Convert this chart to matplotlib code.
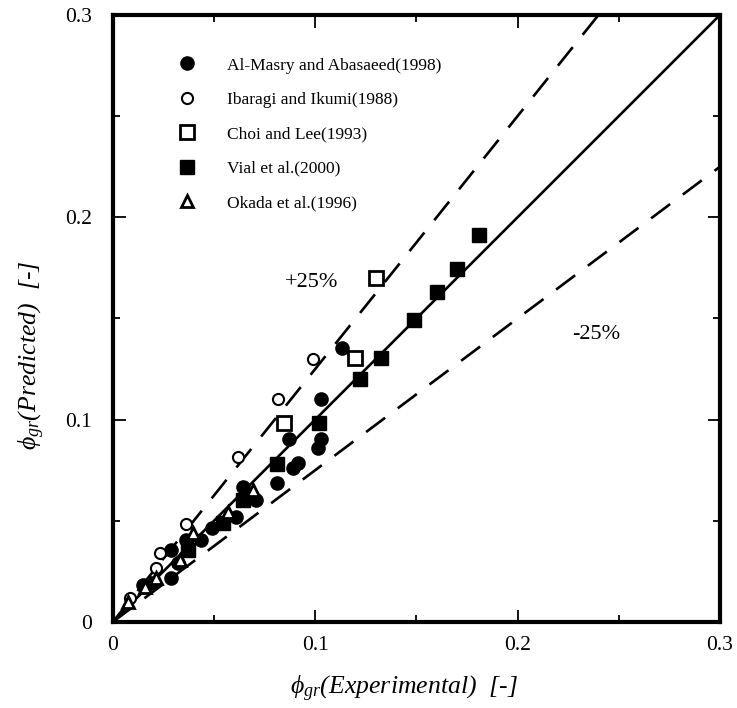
import matplotlib
matplotlib.use("Agg")
import matplotlib.pyplot as plt
from matplotlib.ticker import MultipleLocator
import numpy as np

plt.rcParams['font.family'] = ['Liberation Serif', 'DejaVu Serif']
plt.rcParams['mathtext.fontset'] = 'custom'
plt.rcParams['mathtext.rm'] = 'Liberation Serif'
plt.rcParams['mathtext.it'] = 'Liberation Serif:italic'

# Data (experimental, predicted)
almasry_x = [0.113, 0.1028, 0.1031, 0.1012, 0.0872, 0.0915, 0.0890, 0.0809, 0.0644,
             0.0710, 0.0611, 0.0488, 0.0438, 0.0364, 0.0290, 0.0323, 0.0290, 0.0150, 0.0191]
almasry_y = [0.1353, 0.1102, 0.0903, 0.0859, 0.0903, 0.0788, 0.0760, 0.0686, 0.0669,
             0.0603, 0.0520, 0.0463, 0.0405, 0.0405, 0.0356, 0.0290, 0.0216, 0.0183, 0.0191]

ibaragi_x = [0.0990, 0.0817, 0.0619, 0.0360, 0.0232, 0.0216, 0.0084]
ibaragi_y = [0.1300, 0.1100, 0.0814, 0.0484, 0.0343, 0.0265, 0.0117]

choi_x = [0.1300, 0.1196, 0.0845]
choi_y = [0.1700, 0.1303, 0.0982]

vial_x = [0.181, 0.170, 0.160, 0.149, 0.1325, 0.1220, 0.1017, 0.0812, 0.0644, 0.0545, 0.0372]
vial_y = [0.191, 0.1745, 0.163, 0.149, 0.1305, 0.1200, 0.0982, 0.0781, 0.0603, 0.0488, 0.0356]

okada_x = [0.0694, 0.0570, 0.0397, 0.0330, 0.0216, 0.0158, 0.0076]
okada_y = [0.0653, 0.0545, 0.0438, 0.0306, 0.0216, 0.0171, 0.0100]

labels = ['Al-Masry and Abasaeed(1998)', 'Ibaragi and Ikumi(1988)', 'Choi and Lee(1993)',
          'Vial et al.(2000)', 'Okada et al.(1996)']

fig = plt.figure(figsize=(7.37, 7.08), dpi=100)
ax = fig.add_axes([0.153, 0.1215, 0.824, 0.8575])

line = np.array([0.0, 0.3])
ax.plot(line, line, color='black', lw=1.9, zorder=2)
ax.plot(line, 1.25 * line, color='black', lw=1.9, dashes=(9, 6), zorder=2)
ax.plot(line, 0.75 * line, color='black', lw=1.9, dashes=(9, 6), zorder=2)

ax.plot(almasry_x, almasry_y, 'o', ms=9.5, mfc='black', mec='black', ls='none', label=labels[0], zorder=3)
ax.plot(ibaragi_x, ibaragi_y, 'o', ms=8, mfc='white', mec='black', mew=1.5, ls='none', label=labels[1], zorder=3)
ax.plot(choi_x, choi_y, 's', ms=10, mfc='white', mec='black', mew=2, ls='none', label=labels[2], zorder=3)
ax.plot(vial_x, vial_y, 's', ms=10.5, mfc='black', mec='black', ls='none', label=labels[3], zorder=3)
ax.plot(okada_x, okada_y, '^', ms=9, mfc='white', mec='black', mew=2, ls='none', label=labels[4], zorder=3)

ax.set_xlim(0, 0.3)
ax.set_ylim(0, 0.3)
ax.xaxis.set_major_locator(MultipleLocator(0.1))
ax.yaxis.set_major_locator(MultipleLocator(0.1))
ax.xaxis.set_minor_locator(MultipleLocator(0.05))
ax.yaxis.set_minor_locator(MultipleLocator(0.05))
ax.xaxis.set_major_formatter(plt.FuncFormatter(lambda v, p: '0' if abs(v) < 1e-9 else f'{v:.1f}'))
ax.yaxis.set_major_formatter(plt.FuncFormatter(lambda v, p: '0' if abs(v) < 1e-9 else f'{v:.1f}'))
ax.tick_params(which='both', direction='in', top=True, right=True, width=1.3, labelsize=15.5)
ax.tick_params(which='major', length=9)
ax.tick_params(which='minor', length=5)
ax.tick_params(axis='x', pad=10)
ax.tick_params(axis='y', pad=15)
for s in ax.spines.values():
    s.set_linewidth(3)

ax.text(0.0983, 0.1676, '+25%', fontsize=16, ha='center', va='center')
ax.text(0.239, 0.142, '-25%', fontsize=16, ha='center', va='center')

ax.set_xlabel(r'$\phi_{gr}$(Experimental)  [-]', fontsize=18.5, style='italic')
ax.set_ylabel(r'$\phi_{gr}$(Predicted)  [-]', fontsize=18.5, style='italic')
ax.xaxis.set_label_coords(0.48, -0.085)
ax.yaxis.set_label_coords(-0.108, 0.44)

leg = ax.legend(loc='upper left', bbox_to_anchor=(0.085, 0.95), frameon=False,
                fontsize=12.5, handlelength=1.2, handletextpad=1.7, labelspacing=1.05,
                borderpad=0.2)

fig.savefig('out.png', dpi=100)
